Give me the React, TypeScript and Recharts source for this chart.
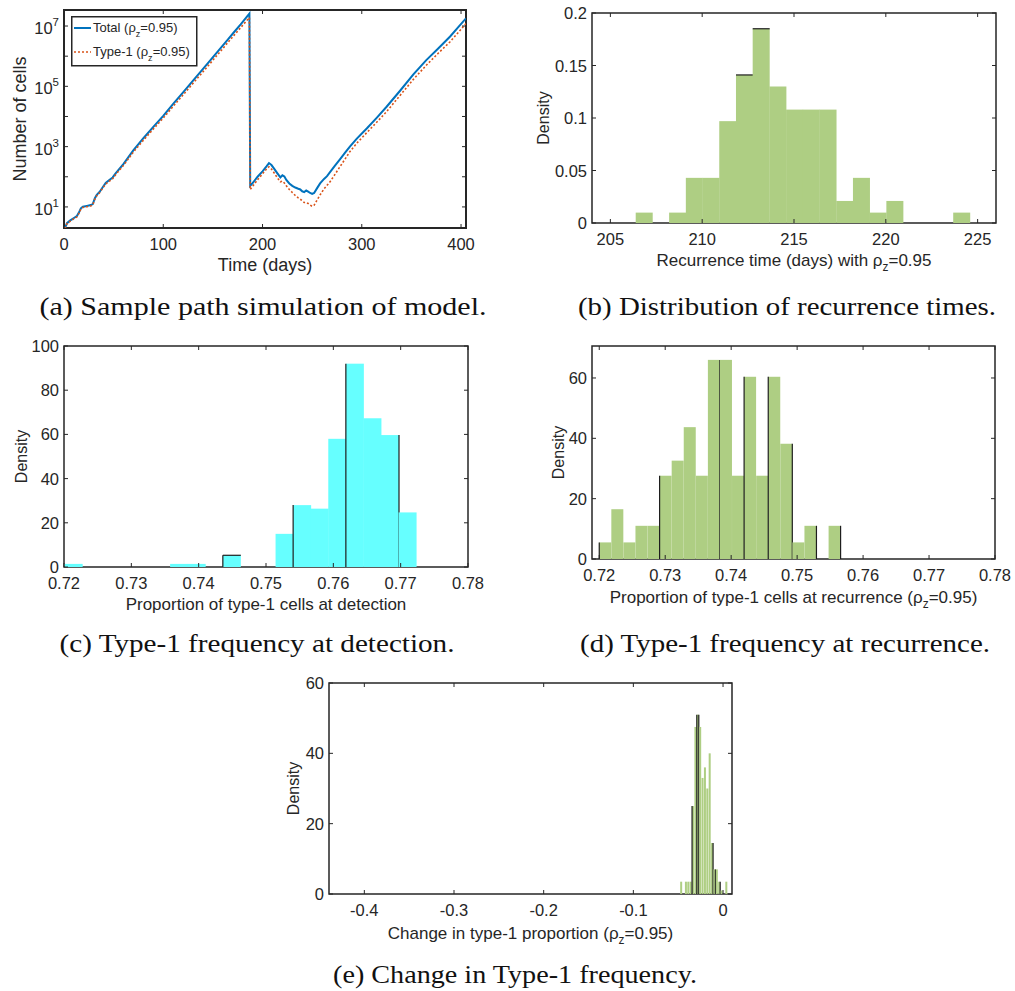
import React from 'react';
import { ComposedChart, Line, Bar, XAxis, YAxis, ReferenceArea, Legend } from 'recharts';

const AX = '#262626';
const SANS = '"Liberation Sans", Arial, Helvetica, sans-serif';
const SERIF = '"Liberation Serif", "Times New Roman", serif';
const TL = 4;

// ---------- (a) sample path ----------
const TOTAL: [number, number][] = [
  [1, 2.0], [3, 2.9], [6, 3.5], [10, 4.3], [13, 5.0], [15, 6.5], [17, 9.0], [19, 10.2], [23, 10.8], [27, 11.5],
  [29, 12.5], [31, 19], [33, 25], [36, 32], [39, 45], [42, 62], [45, 75], [49, 95], [52, 130], [60, 270],
  [70, 760], [80, 1900], [90, 4500], [100, 1.05e4], [110, 2.6e4], [120, 6.3e4], [130, 1.55e5], [137.5, 3.0e5],
  [145, 5.9e5], [155, 1.45e6], [165, 3.55e6], [171, 6.1e6], [178, 1.14e7], [186.8, 2.6e7],
  [187.6, 50], [190, 62], [195, 100], [200, 150], [204, 220], [206.5, 285], [209, 245], [212, 180], [215, 130],
  [218, 95], [220, 112], [222, 102], [224, 78], [227, 60], [230, 50], [233, 44], [236, 40], [238, 38], [240, 33],
  [242, 31], [244, 35], [246, 32], [248, 29], [250, 27], [252, 29], [255, 42], [258, 60], [262, 85], [265, 105],
  [268, 142], [273, 235], [278, 380], [283, 620], [288, 1000], [295, 1850], [305, 4000], [315, 9000], [325, 2.1e4],
  [339, 7.4e4], [352, 2.5e5], [365, 7.4e5], [377, 1.8e6], [389, 4.5e6], [397, 9.0e6], [405, 1.8e7],
];
const TYPE1: [number, number][] = [
  [1, 1.9], [3, 2.8], [6, 3.3], [10, 4.1], [13, 4.7], [15, 6.1], [17, 8.5], [19, 9.6], [23, 10.2], [27, 10.8],
  [29, 11.7], [31, 17.8], [33, 23.5], [36, 30], [39, 42], [42, 57], [45, 69], [49, 86], [52, 117], [60, 240],
  [70, 665], [80, 1640], [90, 3850], [100, 8900], [110, 2.17e4], [120, 5.2e4], [130, 1.26e5], [137.5, 2.42e5],
  [145, 4.7e5], [155, 1.15e6], [165, 2.8e6], [171, 4.8e6], [178, 8.9e6], [186.8, 1.9e7],
  [187.6, 38], [190, 48], [195, 80], [200, 125], [204, 180], [206.5, 215], [209, 180], [212, 130], [215, 92],
  [218, 68], [220, 72], [222, 62], [224, 50], [227, 38], [230, 30], [233, 24], [236, 20], [238, 18], [240, 16],
  [242, 14], [244, 14], [246, 13], [248, 11.5], [250, 10.5], [252, 11.5], [255, 17], [258, 25], [262, 40],
  [265, 52], [268, 68], [273, 120], [278, 215], [283, 380], [288, 680], [295, 1300], [305, 2900], [315, 6400],
  [325, 1.45e4], [339, 5.2e4], [352, 1.7e5], [365, 5.0e5], [377, 1.25e6], [389, 3.0e6], [397, 6.0e6], [405, 1.2e7],
];
const A_XTICKS = [0, 100, 200, 300, 400];
const A_YTICKS = [10, 1e2, 1e3, 1e4, 1e5, 1e6, 1e7];

// ---------- (b) recurrence times ----------
const B_START = 206.38;
const B_WIDTH = 0.91;
const B_DENSITY = [0.0099, 0, 0.0099, 0.043, 0.043, 0.097, 0.141, 0.185, 0.13, 0.108, 0.108, 0.108, 0.021, 0.043, 0.0099, 0.021, 0, 0, 0, 0.0099];
const B_XTICKS = [205, 210, 215, 220, 225];
const B_YTICKS = [0, 0.05, 0.1, 0.15, 0.2];

// ---------- (c) type-1 at detection ----------
const C_START = 0.7201;
const C_WIDTH = 0.00261;
const C_DENSITY = [1.4, 0, 0, 0, 0, 0, 1.4, 1.4, 0, 5.3, 0, 0, 15, 28, 26.4, 58, 92, 67.3, 59.7, 24.7];
const C_XTICKS = [0.72, 0.73, 0.74, 0.75, 0.76, 0.77, 0.78];
const C_YTICKS = [0, 20, 40, 60, 80, 100];

// ---------- (d) type-1 at recurrence ----------
const D_START = 0.72;
const D_WIDTH = 0.00183;
const D_DENSITY = [5.5, 16.5, 5.5, 11, 11, 27.6, 32.6, 43.7, 27.6, 66, 66, 27.6, 60.4, 27.6, 60.4, 38.2, 5.5, 11, 0, 11];
const D_XTICKS = [0.72, 0.73, 0.74, 0.75, 0.76, 0.77, 0.78];
const D_YTICKS = [0, 20, 40, 60];

// ---------- (e) change in type-1 ----------
const E_START = -0.0478;
const E_WIDTH = 0.00265;
const E_DENSITY = [3.5, 0, 3.5, 3.5, 3.5, 25, 47.5, 51, 47.5, 33, 36, 30, 40, 14.5, 7, 7, 3.5, 1, 0, 3.5];
const E_XTICKS = [-0.4, -0.3, -0.2, -0.1, 0];
const E_YTICKS = [0, 20, 40, 60];

type Bin = { x: number; d: number; dl: boolean; dr: boolean; dt: boolean };
function makeBins(start: number, width: number, dens: number[], dl: number[], dr: number[], dt: number[]): Bin[] {
  return dens.map((d, i) => ({ x: start + (i + 0.5) * width, d, dl: dl.includes(i), dr: dr.includes(i), dt: dt.includes(i) }));
}

const barShape = (fill: string) => (p: any) => {
  const { x, y, width, height, payload } = p;
  if (!height || height <= 0) return <g />;
  const dk = '#1e1e1e';
  return (
    <g>
      <rect x={x} y={y} width={width} height={height} fill={fill} />
      {payload.dt && <line x1={x} x2={x + width} y1={y} y2={y} stroke={dk} strokeWidth={1.2} />}
      {payload.dl && <line x1={x} x2={x} y1={y} y2={y + height} stroke={dk} strokeWidth={1.2} />}
      {payload.dr && <line x1={x + width} x2={x + width} y1={y} y2={y + height} stroke={dk} strokeWidth={1.2} />}
    </g>
  );
};

const xTick = (top: number, bottom: number, fmt: (v: number) => React.ReactNode, fs = 16.5) => (p: any) => {
  const v = p.payload.value;
  return (
    <g>
      <line x1={p.x} x2={p.x} y1={bottom} y2={bottom - TL} stroke={AX} strokeWidth={1} />
      <line x1={p.x} x2={p.x} y1={top} y2={top + TL} stroke={AX} strokeWidth={1} />
      <text x={p.x} y={bottom + 22} textAnchor="middle" fontSize={fs} fill={AX} fontFamily={SANS}>{fmt(v)}</text>
    </g>
  );
};

const yTick = (left: number, right: number, fmt: (v: number) => React.ReactNode, fs = 16.5, dy = 6) => (p: any) => {
  const v = p.payload.value;
  const lab = fmt(v);
  return (
    <g>
      <line x1={left} x2={left + TL} y1={p.y} y2={p.y} stroke={AX} strokeWidth={1} />
      <line x1={right} x2={right - TL} y1={p.y} y2={p.y} stroke={AX} strokeWidth={1} />
      {lab !== null && (
        <text x={left - 5} y={p.y + dy} textAnchor="end" fontSize={fs} fill={AX} fontFamily={SANS}>{lab}</text>
      )}
    </g>
  );
};

const Rho = (props: { fs: number }) => (
  <>
    {'ρ'}
    <tspan dy={5} fontSize={props.fs * 0.7}>z</tspan>
    <tspan dy={-5}>=0.95</tspan>
  </>
);

type HistCfg = {
  left: number; top: number; W: number; H: number; mt: number; mr: number; yw: number; xh: number;
  xDomain: [number, number]; yDomain: [number, number]; xTicks: number[]; yTicks: number[];
  xFmt: (v: number) => string; yFmt: (v: number) => string;
  data: Bin[]; fill: string; xLabel: React.ReactNode; xlDy: number; ylX: number;
};

function HistPanel({ c }: { c: HistCfg }) {
  const pT = c.mt, pB = c.H - c.xh, pL = c.yw, pR = c.W - c.mr;
  return (
    <div style={{ position: 'absolute', left: c.left, top: c.top, width: c.W, height: c.H }}>
      <ComposedChart width={c.W} height={c.H} data={c.data} margin={{ top: c.mt, right: c.mr, bottom: 0, left: 0 }} barCategoryGap={0} barGap={0}>
        <XAxis dataKey="x" type="number" domain={c.xDomain} ticks={c.xTicks} interval={0} allowDataOverflow height={c.xh}
          axisLine={false} tickLine={false} tickSize={0} tickMargin={0} tick={xTick(pT, pB, c.xFmt)}
          label={{ content: () => (
            <text x={(pL + pR) / 2} y={pB + c.xlDy} textAnchor="middle" fontSize={17} fill={AX} fontFamily={SANS}>{c.xLabel}</text>
          ) }} />
        <YAxis type="number" domain={c.yDomain} ticks={c.yTicks} interval={0} allowDataOverflow width={c.yw}
          axisLine={false} tickLine={false} tickSize={0} tickMargin={0} tick={yTick(pL, pR, c.yFmt)}
          label={{ content: () => (
            <text x={c.ylX} y={(pT + pB) / 2} transform={`rotate(-90 ${c.ylX} ${(pT + pB) / 2})`} textAnchor="middle" dominantBaseline="central" fontSize={16} fill={AX} fontFamily={SANS}>Density</text>
          ) }} />
        <Bar dataKey="d" isAnimationActive={false} shape={barShape(c.fill)} />
        <ReferenceArea x1={c.xDomain[0]} x2={c.xDomain[1]} y1={c.yDomain[0]} y2={c.yDomain[1]} fill="none" stroke={AX} strokeWidth={1.5} ifOverflow="visible" />
      </ComposedChart>
    </div>
  );
}

function PanelA() {
  const W = 490, H = 280, mt = 10, mr = 24, yw = 64, xh = 52;
  const pT = mt, pB = H - xh, pL = yw, pR = W - mr;
  const tot = TOTAL.map(([t, v]) => ({ t, v }));
  const t1 = TYPE1.map(([t, v]) => ({ t, v }));
  const yFmt = (v: number) => {
    const e = Math.round(Math.log10(v));
    if (e % 2 === 0) return null;
    return (<>10<tspan dy={-8} fontSize={11.5}>{e}</tspan></>);
  };
  const legend = () => (
    <svg width={128} height={52} style={{ display: 'block' }}>
      <rect x={0.75} y={0.75} width={125} height={49} fill="#fff" stroke={AX} strokeWidth={1.5} />
      <line x1={3} x2={20} y1={12} y2={12} stroke="#0072BD" strokeWidth={2} />
      <text x={22} y={16} fontSize={13} fill={AX} fontFamily={SANS}>Total (<Rho fs={13} />)</text>
      <line x1={3} x2={20} y1={36} y2={36} stroke="#D95319" strokeWidth={1.6} strokeDasharray="2 2" />
      <text x={22} y={40} fontSize={13} fill={AX} fontFamily={SANS}>Type-1 (<Rho fs={13} />)</text>
    </svg>
  );
  return (
    <div style={{ position: 'absolute', left: 0, top: 0, width: W, height: H }}>
      <ComposedChart width={W} height={H} margin={{ top: mt, right: mr, bottom: 0, left: 0 }}>
        <XAxis dataKey="t" type="number" domain={[0, 405]} ticks={A_XTICKS} interval={0} allowDataOverflow height={xh}
          axisLine={false} tickLine={false} tickSize={0} tickMargin={0} tick={xTick(pT, pB, (v) => String(v))}
          label={{ content: () => (
            <text x={(pL + pR) / 2} y={pB + 43} textAnchor="middle" fontSize={18} fill={AX} fontFamily={SANS}>Time (days)</text>
          ) }} />
        <YAxis type="number" scale="log" domain={[2, 3.4e7]} ticks={A_YTICKS} interval={0} allowDataOverflow width={yw}
          axisLine={false} tickLine={false} tickSize={0} tickMargin={0} tick={yTick(pL, pR, yFmt as any, 16.5, 8)}
          label={{ content: () => (
            <text x={20} y={(pT + pB) / 2} transform={`rotate(-90 20 ${(pT + pB) / 2})`} textAnchor="middle" dominantBaseline="central" fontSize={18} fill={AX} fontFamily={SANS}>Number of cells</text>
          ) }} />
        <Line data={tot} dataKey="v" type="linear" stroke="#0072BD" strokeWidth={2} dot={false} isAnimationActive={false} name="Total" />
        <Line data={t1} dataKey="v" type="linear" stroke="#D95319" strokeWidth={1.6} strokeDasharray="2 2" dot={false} isAnimationActive={false} name="Type-1" />
        <ReferenceArea x1={0} x2={405} y1={2} y2={3.4e7} fill="none" stroke={AX} strokeWidth={2} ifOverflow="visible" />
        <Legend layout="vertical" align="center" verticalAlign="middle" content={legend} wrapperStyle={{ left: 71, top: 16, width: 128, height: 52 }} />
      </ComposedChart>
    </div>
  );
}

const fmtPlain = (v: number) => String(v);
const fmt2 = (v: number) => v.toFixed(2);
const fmtE = (v: number) => (v === 0 ? '0' : v.toFixed(1));

const PANEL_B: HistCfg = {
  left: 510, top: 0, W: 505, H: 280, mt: 13, mr: 19, yw: 82, xh: 57,
  xDomain: [204, 226], yDomain: [0, 0.2], xTicks: B_XTICKS, yTicks: B_YTICKS, xFmt: fmtPlain, yFmt: fmtPlain,
  data: makeBins(B_START, B_WIDTH, B_DENSITY, [], [], [6, 7]), fill: '#AECE83',
  xLabel: <>Recurrence time (days) with <Rho fs={17} /></>, xlDy: 43, ylX: 33,
};
const PANEL_C: HistCfg = {
  left: 0, top: 330, W: 500, H: 290, mt: 16, mr: 32, yw: 64, xh: 53,
  xDomain: [0.72, 0.78], yDomain: [0, 100], xTicks: C_XTICKS, yTicks: C_YTICKS, xFmt: fmt2, yFmt: fmtPlain,
  data: makeBins(C_START, C_WIDTH, C_DENSITY, [9, 13, 16], [18], [9]), fill: '#66FFFF',
  xLabel: 'Proportion of type-1 cells at detection', xlDy: 43, ylX: 21,
};
const PANEL_D: HistCfg = {
  left: 510, top: 330, W: 505, H: 290, mt: 16, mr: 20, yw: 82, xh: 61,
  xDomain: [0.7189, 0.78], yDomain: [0, 70.6], xTicks: D_XTICKS, yTicks: D_YTICKS, xFmt: fmt2, yFmt: fmtPlain,
  data: makeBins(D_START, D_WIDTH, D_DENSITY, [0, 5, 12, 14], [9, 15, 17, 19], []), fill: '#AECE83',
  xLabel: <>Proportion of type-1 cells at recurrence (<Rho fs={17} />)</>, xlDy: 44, ylX: 48,
};
const PANEL_E: HistCfg = {
  left: 280, top: 670, W: 470, H: 290, mt: 13, mr: 18, yw: 49, xh: 66,
  xDomain: [-0.4394, 0.01], yDomain: [0, 60], xTicks: E_XTICKS, yTicks: E_YTICKS, xFmt: fmtE, yFmt: fmtPlain,
  data: makeBins(E_START, E_WIDTH, E_DENSITY, [5, 7], [7, 13, 14, 16], []), fill: '#AECE83',
  xLabel: <>Change in type-1 proportion (<Rho fs={17} />)</>, xlDy: 45, ylX: 13,
};

const CAPTIONS: { text: string; cx: number; y: number; len: number }[] = [
  { text: '(a) Sample path simulation of model.', cx: 263, y: 315, len: 447 },
  { text: '(b) Distribution of recurrence times.', cx: 787, y: 315, len: 418 },
  { text: '(c) Type-1 frequency at detection.', cx: 257, y: 652, len: 395 },
  { text: '(d) Type-1 frequency at recurrence.', cx: 785, y: 652, len: 410 },
  { text: '(e) Change in Type-1 frequency.', cx: 515, y: 983, len: 364 },
];

export default function App() {
  return (
    <div style={{ position: 'absolute', left: 0, top: 0, width: 1015, height: 991, background: '#fff', overflow: 'hidden' }}>
      <svg width={1015} height={991} style={{ position: 'absolute', left: 0, top: 0 }}>
        {CAPTIONS.map((c) => (
          <text key={c.text} x={c.cx} y={c.y} textAnchor="middle" textLength={c.len} lengthAdjust="spacingAndGlyphs" fontSize={26} fontFamily={SERIF} fill="#111">{c.text}</text>
        ))}
      </svg>
      <PanelA />
      <HistPanel c={PANEL_B} />
      <HistPanel c={PANEL_C} />
      <HistPanel c={PANEL_D} />
      <HistPanel c={PANEL_E} />
    </div>
  );
}
